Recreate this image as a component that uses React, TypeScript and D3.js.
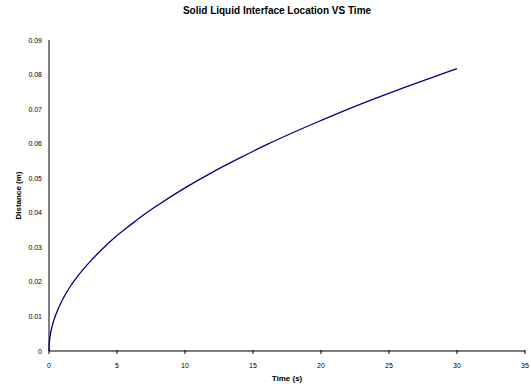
import React from "react";
import * as d3 from "d3";

const TITLE = "Solid Liquid Interface Location VS Time";
const X_LABEL = "Time (s)";
const Y_LABEL = "Distance (m)";

const timeValues = [0, 0.02, 0.1, 0.25, 0.5, 1, 1.5, 2, 3, 4, 5, 6, 7, 8, 10, 12, 14, 16, 18, 20, 22, 24, 26, 28, 30];
const distanceValues = [0, 0.0021, 0.0047, 0.0075, 0.0105, 0.0149, 0.0183, 0.0211, 0.0258, 0.0298, 0.0334, 0.0365, 0.0395, 0.0422, 0.0472, 0.0517, 0.0558, 0.0597, 0.0633, 0.0667, 0.07, 0.0731, 0.0761, 0.0789, 0.0817];

const xTicks = [0, 5, 10, 15, 20, 25, 30, 35];
const yTicks = [0, 0.01, 0.02, 0.03, 0.04, 0.05, 0.06, 0.07, 0.08, 0.09];

export default function App() {
  const W = 531, H = 389;
  const left = 49, right = 525, top = 40, bottom = 351;
  const x = d3.scaleLinear().domain([0, 35]).range([left, right]);
  const y = d3.scaleLinear().domain([0, 0.09]).range([bottom, top]);
  const data = timeValues.map((t, i) => [t, distanceValues[i]] as [number, number]);
  const line = d3.line<[number, number]>().x(d => x(d[0])).y(d => y(d[1])).curve(d3.curveMonotoneX);
  const font = "Arial, 'Liberation Sans', sans-serif";
  return (
    <svg width={W} height={H} style={{ position: "absolute", left: 0, top: 0, background: "#fff" }} fontFamily={font}>
      <rect x={0} y={0} width={W} height={H} fill="#fff" />
      <text x={277} y={14} textAnchor="middle" fontSize={10} fontWeight="bold">{TITLE}</text>
      <line x1={left} x2={left} y1={top} y2={bottom} stroke="#000" strokeWidth={1} />
      <line x1={left} x2={right} y1={bottom} y2={bottom} stroke="#000" strokeWidth={1} />
      {xTicks.map(t => (
        <g key={t}>
          <line x1={x(t)} x2={x(t)} y1={bottom - 1} y2={bottom + 3} stroke="#000" />
          <text x={x(t)} y={bottom + 17} textAnchor="middle" fontSize={7}>{t}</text>
        </g>
      ))}
      {yTicks.map(t => (
        <text key={t} x={42} y={y(t) + 2.5} textAnchor="end" fontSize={7}>{t === 0 ? "0" : t.toFixed(2)}</text>
      ))}
      <text x={(left + right) / 2} y={381} textAnchor="middle" fontSize={8} fontWeight="bold">{X_LABEL}</text>
      <text transform={`translate(21,${(top + bottom) / 2}) rotate(-90)`} textAnchor="middle" fontSize={8} fontWeight="bold">{Y_LABEL}</text>
      <path d={line(data) || ""} fill="none" stroke="#000080" strokeWidth={1.3} />
    </svg>
  );
}
